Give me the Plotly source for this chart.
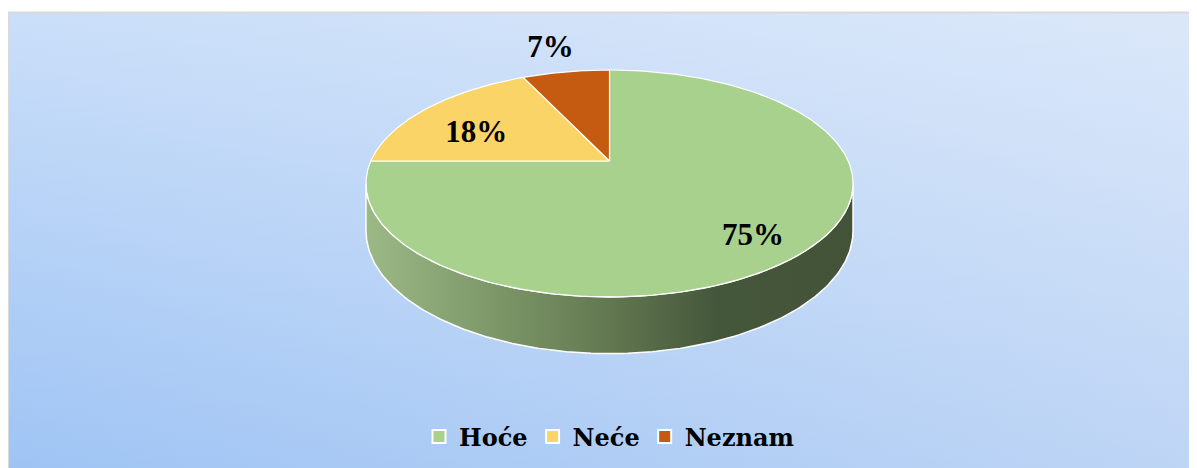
import numpy as np
import plotly.graph_objects as go

# ---- data ----
categories = ["Hoće", "Neće", "Neznam"]
values = [75, 18, 7]
labels = ["75%", "18%", "7%"]
colors = ["#A9D18E", "#FAD466", "#C55A11"]

# ---- geometry / style (page-pixel space, perspective-projected disc) ----
W, H = 1197, 468
OFF = 8                    # page body margin
CX, CY = 609.5, 161.0      # projected pie centre
A, B, K = 238.7, 109.0, 0.198   # horizontal radius, vertical radius, perspective factor
D0 = 45.5                  # wall depth
label_r = [0.75, 0.70, 1.30]
label_dx = [2, -2, -5]
label_dy = [12, 11, -1]


def proj(X, Z):
    s = 1.0 + K * Z
    return CX + A * X / s, CY - B * Z / s


fig = go.Figure()

# background (two gradient layers: horizontal + vertical white veil)
bx = [9, W + OFF, W + OFF, 9, 9]
by = [13, 13, H + OFF, H + OFF, 13]
fig.add_trace(go.Scatter(x=bx, y=by, mode="lines", fill="toself", line=dict(width=0),
                         fillgradient=dict(type="horizontal", start=9, stop=W,
                                           colorscale=[[0, "#9fc4f4"], [1, "#bed5f5"]]),
                         hoverinfo="skip", showlegend=False))
fig.add_trace(go.Scatter(x=bx, y=by, mode="lines", fill="toself", line=dict(width=0),
                         fillgradient=dict(type="vertical", start=H, stop=13,
                                           colorscale=[[0, "rgba(255,255,255,0)"],
                                                       [1, "rgba(255,255,255,0.45)"]]),
                         hoverinfo="skip", showlegend=False))

# side wall (front half of the rim)
phi_l = np.arccos(-K)
phi = np.linspace(phi_l, 2 * np.pi - phi_l, 200)
X, Z = np.sin(phi), np.cos(phi)
tx, ty = proj(X, Z)
bty = ty + D0 / (1.0 + K * Z)
wx = np.concatenate([tx, tx[::-1], tx[:1]])
wy = np.concatenate([ty, bty[::-1], ty[:1]])
fig.add_trace(go.Scatter(x=wx, y=wy, mode="lines", fill="toself",
                         line=dict(color="white", width=1.5),
                         fillgradient=dict(type="horizontal", start=float(tx.min()), stop=float(tx.max()),
                                           colorscale=[[0, "#9bb985"], [0.45, "#687f55"],
                                                       [0.72, "#45573b"], [1, "#435338"]]),
                         hoverinfo="skip", showlegend=False))

# top slices
total = sum(values)
cum = np.concatenate([[0], np.cumsum(values)]) / total * 2 * np.pi
for i, cat in enumerate(categories):
    a0, a1 = cum[i], cum[i + 1]
    n = max(int((a1 - a0) / (2 * np.pi) * 400), 10)
    p = np.linspace(a0, a1, n)
    sx, sy = proj(np.sin(p), np.cos(p))
    xs = np.concatenate([[CX], sx, [CX]])
    ys = np.concatenate([[CY], sy, [CY]])
    fig.add_trace(go.Scatter(x=xs, y=ys, mode="lines", fill="toself", fillcolor=colors[i],
                             line=dict(color="white", width=1.2),
                             hoverinfo="skip", showlegend=False))

# labels
for i, lab in enumerate(labels):
    m = (cum[i] + cum[i + 1]) / 2
    lx, ly = proj(label_r[i] * np.sin(m), label_r[i] * np.cos(m))
    fig.add_trace(go.Scatter(x=[lx + label_dx[i]], y=[ly + label_dy[i]], mode="text",
                             text=["<b>" + lab + "</b>"],
                             textposition="middle center",
                             textfont=dict(family="Liberation Serif", size=31, color="black"),
                             hoverinfo="skip", showlegend=False))

# legend entries
for i, cat in enumerate(categories):
    fig.add_trace(go.Scatter(x=[None], y=[None], mode="markers", name="<b>" + cat + "</b>",
                             marker=dict(symbol="square", size=13, color=colors[i],
                                         line=dict(color="white", width=2))))

fig.update_layout(
    width=W, height=H,
    margin=dict(l=0, r=0, t=0, b=0),
    paper_bgcolor="white", plot_bgcolor="white",
    xaxis=dict(range=[OFF, W + OFF], visible=False, fixedrange=True),
    yaxis=dict(range=[H + OFF, OFF], visible=False, fixedrange=True),
    showlegend=True,
    legend=dict(orientation="h", x=(419 - OFF) / W, xanchor="left",
                y=1 - (437 - OFF) / H, yanchor="middle",
                bgcolor="rgba(0,0,0,0)", itemsizing="trace",
                font=dict(family="DejaVu Serif", size=24, color="black")),
    shapes=[
        dict(type="line", xref="x", yref="y", x0=8, x1=W + OFF, y0=12.5, y1=12.5,
             line=dict(color="#d9d9d9", width=2)),
        dict(type="line", xref="x", yref="y", x0=8, x1=8, y0=12, y1=H + OFF,
             line=dict(color="#d9d9d9", width=2)),
    ],
)

fig.write_html("out.html")
